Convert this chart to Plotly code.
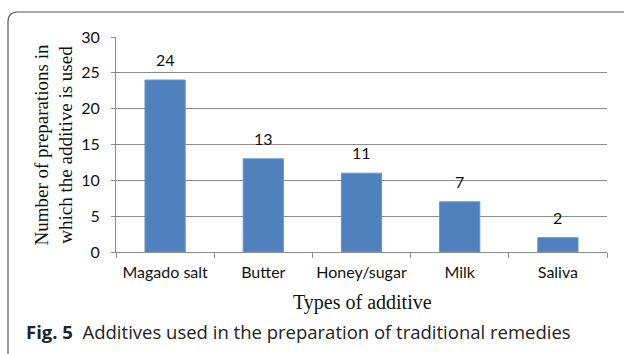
import plotly.graph_objects as go

categories = ["Magado salt", "Butter", "Honey/sugar", "Milk", "Saliva"]
counts = [24, 13, 11, 7, 2]
y_ticks = [0, 5, 10, 15, 20, 25, 30]

W, H = 624, 354
ml, mr, mt, mb = 116, 17, 37, 102

fig = go.Figure()
fig.add_trace(go.Bar(
    x=categories, y=counts,
    marker=dict(color="#4F81BD", line=dict(color="#6A95C9", width=1)),
    hoverinfo="x+y",
))

for c, v in zip(categories, counts):
    fig.add_annotation(x=c, y=v, text=str(v), showarrow=False,
                       xref="x", yref="y", yanchor="bottom", yshift=9,
                       font=dict(family="Lato", size=16, color="#111"))

serif = "Liberation Serif, Times New Roman, serif"

fig.update_layout(
    width=W, height=H,
    margin=dict(l=ml, r=mr, t=mt, b=mb, pad=0),
    paper_bgcolor="white", plot_bgcolor="white",
    bargap=0.59,
    showlegend=False,
    xaxis=dict(
        showline=True, linecolor="#8c8c8c", linewidth=1,
        ticks="outside", ticklen=5, tickcolor="#8c8c8c", tickson="boundaries",
        tickfont=dict(family="Lato", size=16, color="#111"),
        tickangle=0,
        ticklabelstandoff=6,
        showgrid=False,
    ),
    yaxis=dict(
        range=[0, 30], tickvals=y_ticks,
        showline=True, linecolor="#8c8c8c", linewidth=1,
        ticks="outside", ticklen=4, tickcolor="#8c8c8c",
        showgrid=True, gridcolor="#8c8c8c", gridwidth=1,
        zeroline=False,
        tickfont=dict(family="Lato", size=16, color="#111"),
        ticklabelstandoff=8,
    ),
)

# y axis title (two lines, rotated)
fig.add_annotation(xref="paper", yref="paper", x=-(ml - 53) / (W - ml - mr), y=0.5,
                   text="Number of preparations in<br>which the additive is used",
                   textangle=-90, showarrow=False, xanchor="center", yanchor="middle",
                   font=dict(family=serif, size=19, color="#111"))
# x axis title
fig.add_annotation(xref="paper", yref="paper", x=(362 - ml) / (W - ml - mr),
                   y=-(302 - (H - mb)) / (H - mt - mb),
                   text="Types of additive", showarrow=False, xanchor="center", yanchor="middle",
                   font=dict(family=serif, size=20, color="#111"))
# caption
fig.add_annotation(xref="paper", yref="paper", x=(24 - ml) / (W - ml - mr),
                   y=-(331 - (H - mb)) / (H - mt - mb),
                   text="<b>Fig. 5</b>  Additives used in the preparation of traditional remedies",
                   showarrow=False, xanchor="left", yanchor="middle",
                   font=dict(family="Open Sans", size=18.5, color="#222"))

# rounded border box
def px(x):
    return (x - ml) / (W - ml - mr)
def py(y):
    return (H - mb - y) / (H - mt - mb)

x0, y0, x1, y1, r = 8, 12, 640, 370, 10
path = (f"M {px(x0)},{py(y0 + r)} "
        f"Q {px(x0)},{py(y0)} {px(x0 + r)},{py(y0)} "
        f"L {px(x1)},{py(y0)} L {px(x1)},{py(y1)} L {px(x0)},{py(y1)} Z")
fig.add_shape(type="path", path=path, xref="paper", yref="paper",
              line=dict(color="#555", width=1.2), fillcolor="rgba(0,0,0,0)")

fig.write_html("out.html")
